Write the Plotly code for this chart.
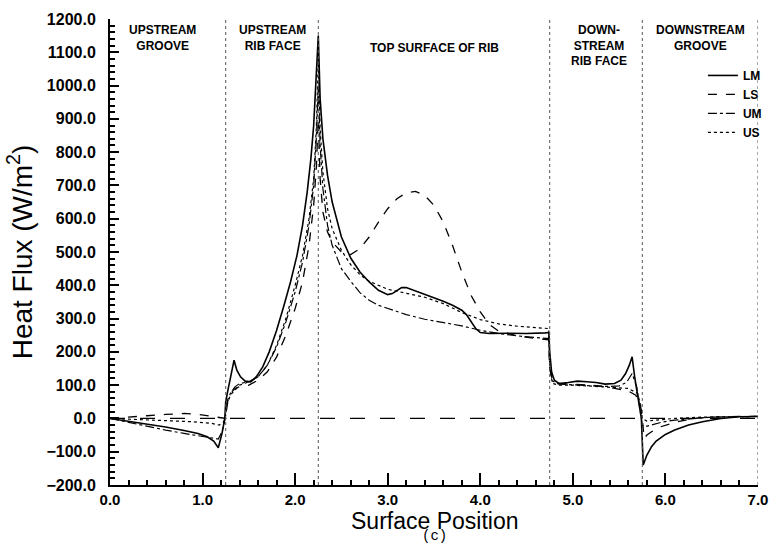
import plotly.graph_objects as go

# ---------------- data ----------------
LM_X = [0.0, 0.2, 0.4, 0.6, 0.8, 0.95, 1.05, 1.12, 1.17, 1.21, 1.24, 1.25, 1.27, 1.30, 1.32, 1.34,
        1.37, 1.41, 1.46, 1.52, 1.58, 1.65, 1.72, 1.80, 1.88, 1.95, 2.02, 2.08, 2.13, 2.17, 2.20,
        2.23, 2.25, 2.27, 2.30, 2.35, 2.40, 2.50, 2.60, 2.70, 2.80, 2.90, 3.00, 3.05, 3.10, 3.15,
        3.20, 3.30, 3.40, 3.50, 3.60, 3.70, 3.80, 3.85, 3.90, 3.95, 4.00, 4.10, 4.30, 4.50, 4.70,
        4.74, 4.75, 4.77, 4.80, 4.85, 4.95, 5.05, 5.15, 5.25, 5.35, 5.45, 5.52, 5.57, 5.61, 5.64,
        5.67, 5.71, 5.74, 5.76, 5.80, 5.85, 5.90, 6.00, 6.10, 6.25, 6.40, 6.60, 6.80, 7.00]
LM_V = [0, -8, -18, -26, -36, -45, -55, -68, -88, -45, 0, 50, 80, 120, 150, 175,
        145, 125, 112, 110, 125, 155, 200, 265, 340, 410, 490, 580, 680, 780, 880,
        1020, 1150, 960, 840, 730, 650, 545, 482, 440, 410, 385, 372, 375, 385, 393,
        393, 383, 373, 362, 352, 340, 325, 312, 290, 270, 258, 255, 256, 255, 257,
        258, 200, 140, 115, 105, 108, 112, 110, 108, 103, 105, 115, 135, 160, 185,
        120, 50, 0, -140, -110, -85, -68, -48, -35, -20, -10, 0, 5, 6]

LS_X = [0.0, 0.2, 0.4, 0.6, 0.8, 0.95, 1.10, 1.20, 1.25, 1.27, 1.30, 1.35, 1.40, 1.50, 1.60,
        1.70, 1.80, 1.90, 2.00, 2.08, 2.15, 2.20, 2.23, 2.25, 2.27, 2.30, 2.35, 2.40, 2.50,
        2.60, 2.70, 2.80, 2.90, 3.00, 3.10, 3.20, 3.30, 3.40, 3.50, 3.60, 3.70, 3.80, 3.90,
        4.00, 4.10, 4.20, 4.40, 4.60, 4.74, 4.75, 4.78, 4.85, 5.00, 5.20, 5.40, 5.50, 5.60,
        5.68, 5.73, 5.75, 5.77, 5.80, 5.85, 5.95, 6.10, 6.30, 6.50, 6.80, 7.00]
LS_V = [0, 3, 8, 12, 15, 12, 6, 2, 0, 50, 75, 90, 95, 100, 115,
        140, 185, 250, 330, 410, 520, 640, 760, 900, 720, 620, 560, 530, 500,
        492, 510, 545, 590, 630, 660, 678, 682, 670, 640, 590, 520, 440, 370,
        320, 282, 262, 248, 240, 236, 150, 115, 105, 103, 100, 93, 88, 82,
        70, 40, 0, -60, -50, -40, -25, -12, 0, 4, 6, 6]

UM_X = [0.0, 0.2, 0.4, 0.6, 0.8, 1.0, 1.10, 1.17, 1.21, 1.24, 1.25, 1.27, 1.30, 1.35, 1.40,
        1.50, 1.60, 1.70, 1.80, 1.90, 2.00, 2.08, 2.15, 2.20, 2.23, 2.25, 2.27, 2.30, 2.35,
        2.40, 2.50, 2.60, 2.70, 2.80, 2.90, 3.00, 3.20, 3.40, 3.60, 3.80, 4.00, 4.20, 4.40,
        4.60, 4.74, 4.75, 4.78, 4.85, 5.00, 5.20, 5.40, 5.50, 5.58, 5.64, 5.69, 5.73, 5.75,
        5.78, 5.85, 5.95, 6.10, 6.30, 6.50, 6.80, 7.00]
UM_V = [0, -12, -24, -35, -45, -55, -60, -62, -40, -5, 20, 55, 75, 95, 105,
        110, 125, 160, 215, 290, 380, 470, 580, 700, 850, 1000, 820, 690, 580,
        520, 450, 412, 378, 355, 340, 330, 312, 298, 288, 278, 265, 255, 248,
        243, 240, 150, 112, 103, 100, 98, 96, 98, 108, 135, 95, 20, -20,
        -25, -20, -12, -5, 0, 4, 5, 6]

US_X = [0.0, 0.3, 0.6, 0.9, 1.10, 1.18, 1.23, 1.25, 1.27, 1.30, 1.40, 1.50, 1.60, 1.70, 1.80,
        1.90, 2.00, 2.08, 2.15, 2.20, 2.23, 2.25, 2.27, 2.30, 2.35, 2.40, 2.50, 2.60, 2.70,
        2.80, 3.00, 3.20, 3.40, 3.60, 3.80, 4.00, 4.20, 4.40, 4.60, 4.74, 4.75, 4.78, 4.85,
        5.00, 5.20, 5.40, 5.60, 5.70, 5.74, 5.75, 5.80, 5.90, 6.10, 6.40, 7.00]
US_V = [0, -3, -6, -10, -15, -20, -10, 10, 45, 70, 100, 110, 125, 160, 220,
        300, 400, 490, 600, 720, 880, 1080, 870, 740, 630, 570, 505, 462, 432,
        412, 388, 376, 364, 345, 318, 297, 284, 277, 272, 270, 150, 105, 100,
        100, 97, 94, 90, 75, 30, 0, -8, -5, 0, 4, 6]

SERIES = ["LM", "LS", "UM", "US"]
REGION_BOUNDS = [1.25, 2.25, 4.75, 5.75, 7.0]
REGION_LABELS = ["UPSTREAM<br>GROOVE", "UPSTREAM<br>RIB FACE", "TOP SURFACE OF RIB",
                 "DOWN-<br>STREAM<br>RIB FACE", "DOWNSTREAM<br>GROOVE"]
REGION_CENTERS = [0.57, 1.75, 3.5, 5.28, 6.38]
REGION_SHIFTS = [-2, -2, -20, -2, -2]
X_TICKS = [0, 1, 2, 3, 4, 5, 6, 7]
Y_TICKS = list(range(-200, 1201, 100))
ZERO_REF = [0, 0]
ZERO_REF_X = [0, 7]

# ---------------- figure ----------------
fig = go.Figure()
styles = {"LM": dict(dash="solid", width=1.6),
          "LS": dict(dash="dash", width=1.3),
          "UM": dict(dash="dashdot", width=1.2),
          "US": dict(dash="dot", width=1.2)}
data = {"LM": (LM_X, LM_V), "LS": (LS_X, LS_V), "UM": (UM_X, UM_V), "US": (US_X, US_V)}
for name in SERIES:
    xs, ys = data[name]
    fig.add_trace(go.Scatter(x=xs, y=ys, mode="lines", name=name,
                             line=dict(color="black", **styles[name])))

fig.add_trace(go.Scatter(x=ZERO_REF_X, y=ZERO_REF, mode="lines", showlegend=False,
                         line=dict(color="black", dash="longdash", width=1.3)))

for b in REGION_BOUNDS:
    fig.add_vline(x=b, line=dict(color="#555", width=1, dash="dot"))

for lbl, c, s in zip(REGION_LABELS, REGION_CENTERS, REGION_SHIFTS):
    fig.add_annotation(x=c, y=1.0, xref="x", yref="paper", text=lbl, showarrow=False,
                       xanchor="center", yanchor="top", yshift=s,
                       font=dict(family="Liberation Sans", size=12, color="black", weight="bold"))

fig.add_annotation(x=0.5, y=0, xref="paper", yref="paper", text="Surface Position",
                   showarrow=False, xanchor="center", yanchor="middle", yshift=-36,
                   font=dict(family="Liberation Sans", size=23, color="black"))
fig.add_annotation(x=0.5, y=0, xref="paper", yref="paper", text="(c)", showarrow=False,
                   xanchor="center", yanchor="middle", yshift=-51,
                   font=dict(family="Liberation Mono", size=14, color="black"))

fig.update_layout(
    width=779, height=545,
    margin=dict(l=110, r=19, t=19, b=60),
    paper_bgcolor="white", plot_bgcolor="white",
    font=dict(family="Liberation Sans", color="black"),
    legend=dict(x=0.915, y=0.91, xanchor="left", yanchor="top", bgcolor="rgba(0,0,0,0)",
                font=dict(size=12, weight="bold"), tracegroupgap=0),
    xaxis=dict(range=[0, 7], tickvals=X_TICKS, tickformat=".1f", automargin=False,
               showline=True, linecolor="black", linewidth=2,
               ticks="inside", ticklen=12, tickwidth=1.5, tickcolor="black",
               minor=dict(dtick=0.2, ticks="inside", ticklen=5, tickcolor="black"),
               showgrid=False, zeroline=False, mirror=False,
               ticklabelstandoff=0,
               tickfont=dict(size=15, weight="bold")),
    yaxis=dict(range=[-200, 1200], tickvals=Y_TICKS, tickformat=".1f", automargin=False,
               showline=True, linecolor="black", linewidth=2,
               ticks="inside", ticklen=9, tickwidth=1.5, tickcolor="black",
               minor=dict(dtick=20, ticks="inside", ticklen=5, tickcolor="black"),
               showgrid=False, zeroline=False, mirror=False,
               ticklabelstandoff=9,
               tickfont=dict(size=16, weight="bold"),
               title=dict(text="Heat Flux (W/m<sup>2</sup>)", font=dict(size=28), standoff=6)),
)

fig.write_html("out.html")
